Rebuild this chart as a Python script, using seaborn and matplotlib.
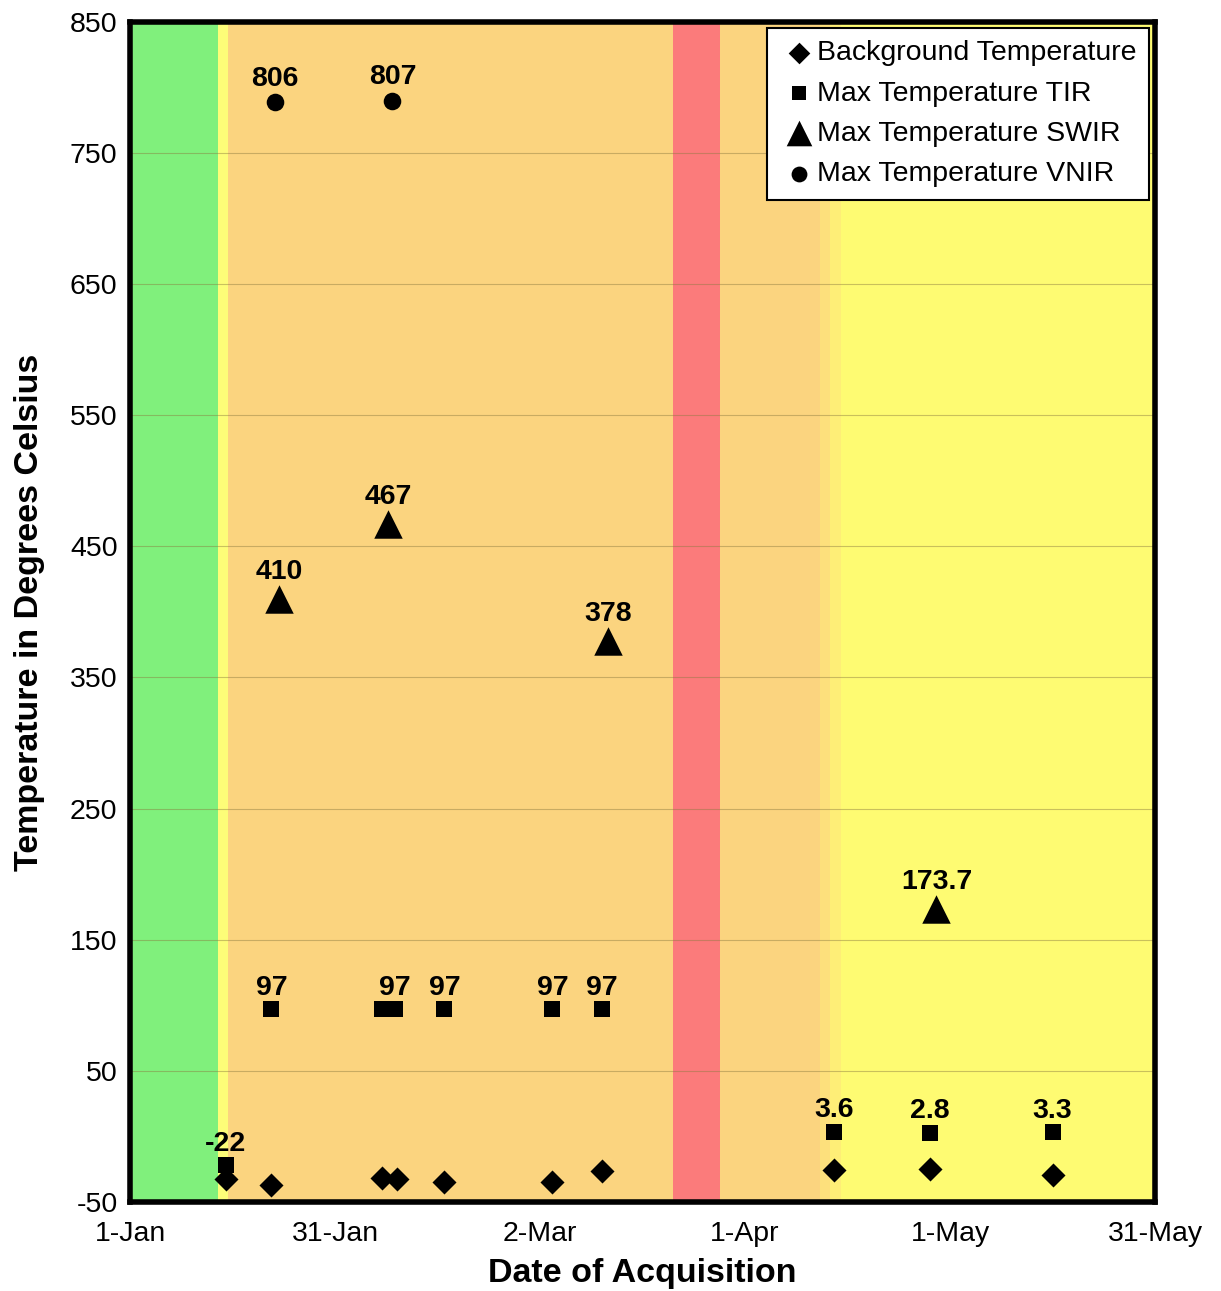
import matplotlib
matplotlib.use("Agg")
import matplotlib.pyplot as plt
import seaborn as sns
import pandas as pd

# days since 1-Jan
bg_days = [14, 20.7, 36.9, 39, 46, 61.8, 69, 103, 117, 135]
bg_temp = [-32.6, -37.2, -31.9, -32.6, -34.9, -34.9, -26.5, -25.7, -25.0, -29.6]

tir_days = [14, 20.7, 36.9, 38.8, 46, 61.8, 69, 103, 117, 135]
tir_temp = [-22, 97, 97, 97, 97, 97, 97, 3.6, 2.8, 3.3]
tir_labels = ["-22", "97", "", "97", "97", "97", "97", "3.6", "2.8", "3.3"]

swir_days = [21.8, 37.8, 70, 118]
swir_temp = [410, 467, 378, 173.7]
swir_labels = ["410", "467", "378", "173.7"]

# circles sit lower on the chart than their printed values
vnir_days = [21.2, 38.4]
vnir_temp = [789, 790]
vnir_labels = ["806", "807"]

tick_days = [0, 30, 60, 90, 120, 150]
tick_labels = ["1-Jan", "31-Jan", "2-Mar", "1-Apr", "1-May", "31-May"]
y_ticks = list(range(-50, 851, 100))

sns.set_style("white")
plt.rcParams["font.family"] = ["Liberation Sans", "DejaVu Sans"]
plt.rcParams["axes.unicode_minus"] = False
plt.rcParams["text.color"] = "black"
plt.rcParams["axes.labelcolor"] = "black"
plt.rcParams["xtick.labelcolor"] = "black"
plt.rcParams["ytick.labelcolor"] = "black"

fig = plt.figure(figsize=(12.21, 12.91), dpi=100)
ax = fig.add_axes([0.1065, 0.069, 0.8395, 0.914])

# background bands
ax.axvspan(0, 12.8, color="#80f07c", lw=0, zorder=0)
ax.axvspan(12.8, 14.3, color="#fdfd78", lw=0, zorder=0)
ax.axvspan(14.3, 79.5, color="#fbd47f", lw=0, zorder=0)
ax.axvspan(79.5, 86.3, color="#fb7b7b", lw=0, zorder=0)
ax.axvspan(86.3, 101, color="#fbd47f", lw=0, zorder=0)
ax.axvspan(101, 102.5, color="#fde07c", lw=0, zorder=0)
ax.axvspan(102.5, 104, color="#feee77", lw=0, zorder=0)
ax.axvspan(104, 150, color="#fefb72", lw=0, zorder=0)

for yv in y_ticks:
    ax.axhline(yv, color="#8a7a40", lw=0.8, alpha=0.45, zorder=1)

bg = pd.DataFrame({"day": bg_days, "temp": bg_temp})
tir = pd.DataFrame({"day": tir_days, "temp": tir_temp})
swir = pd.DataFrame({"day": swir_days, "temp": swir_temp})
vnir = pd.DataFrame({"day": vnir_days, "temp": vnir_temp})

sns.scatterplot(data=bg, x="day", y="temp", marker="D", s=150, color="black",
                edgecolor="black", linewidth=0, ax=ax, zorder=3, label="Background Temperature")
sns.scatterplot(data=tir, x="day", y="temp", marker="s", s=130, color="black",
                edgecolor="black", linewidth=0, ax=ax, zorder=3, label="Max Temperature TIR")
sns.scatterplot(data=swir, x="day", y="temp", marker="^", s=420, color="black",
                edgecolor="black", linewidth=0, ax=ax, zorder=3, label="Max Temperature SWIR")
sns.scatterplot(data=vnir, x="day", y="temp", marker="o", s=160, color="black",
                edgecolor="black", linewidth=0, ax=ax, zorder=3, label="Max Temperature VNIR")

def add_labels(days, temps, labels, off):
    for d, t, lab in zip(days, temps, labels):
        if lab:
            ax.annotate(lab, (d, t), xytext=(0, off), textcoords="offset points",
                        ha="center", va="bottom", fontsize=20.5, fontweight="bold", zorder=4)

add_labels(tir_days, tir_temp, tir_labels, 6)
add_labels(swir_days, swir_temp, swir_labels, 10)
add_labels(vnir_days, vnir_temp, vnir_labels, 7.5)

ax.set_xlim(0, 150)
ax.set_ylim(-50, 850)
ax.set_xticks(tick_days)
ax.set_xticklabels(tick_labels)
ax.set_yticks(y_ticks)
ax.tick_params(axis="x", labelsize=20.5, length=5, width=0.6, color="#888888", direction="out", pad=9)
ax.tick_params(axis="y", labelsize=20.5, length=0, pad=9)
for sp in ax.spines.values():
    sp.set_linewidth(4)
    sp.set_color("black")
    sp.set_zorder(5)

ax.set_xlabel("Date of Acquisition", fontsize=24.5, fontweight="bold", labelpad=8)
ax.set_ylabel("Temperature in Degrees Celsius", fontsize=24.5, fontweight="bold", labelpad=18)

leg = ax.legend(loc="upper right", fontsize=20.5, frameon=True, fancybox=False,
                borderaxespad=0.2, handletextpad=0.0, handlelength=1.3,
                labelspacing=0.5, borderpad=0.45, markerscale=0.9)
leg.get_frame().set_edgecolor("black")
leg.get_frame().set_linewidth(1.5)
leg.get_frame().set_facecolor("white")
leg.get_frame().set_alpha(1)
leg.set_zorder(6)

fig.savefig("out.png", dpi=100)
